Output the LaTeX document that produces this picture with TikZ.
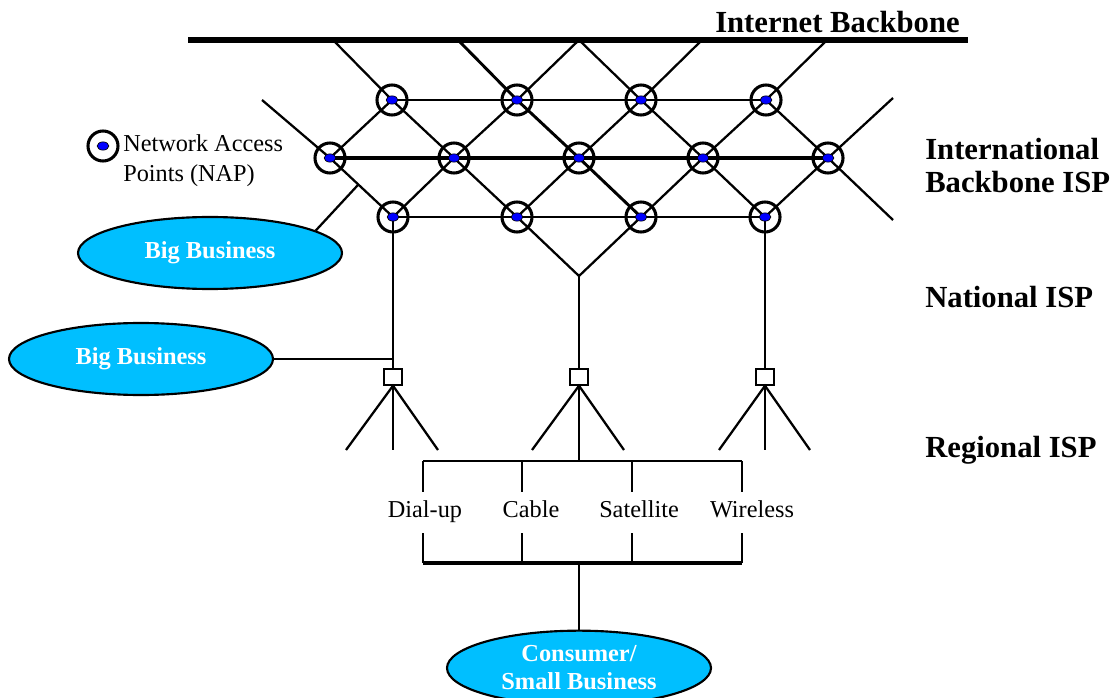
\documentclass[tikz,border=0pt]{standalone}
\usepackage{fontspec}
\setmainfont{Liberation Serif}
\usetikzlibrary{positioning, shapes, backgrounds, calc}
\definecolor{celeste}{RGB}{0, 191, 255}
\definecolor{azul}{RGB}{0, 0, 255}
\tikzset{
    nap/.style={draw, circle, line width=2.3pt, minimum size=22.5pt, inner sep=0pt,
        path picture={\filldraw[fill=azul, draw=black, line width=0.5pt] (path picture bounding box.center) ellipse (4.4pt and 3.1pt);}},
    biz/.style={draw, ellipse, fill=celeste, line width=1.6pt, text=white, minimum width=198pt, minimum height=54pt, inner sep=0pt, align=center, font=\fontsize{18.3}{21}\selectfont\bfseries},
    isp/.style={draw, rectangle, fill=white, line width=1.6pt, minimum width=13pt, minimum height=11.5pt, inner sep=0pt},
    conn/.style={-, line width=1.7pt},
    tier/.style={inner sep=0pt, align=left, font=\fontsize{23}{24.75}\selectfont\bfseries},
    medio/.style={inner sep=0pt, align=left, font=\fontsize{18.2}{22.5}\selectfont},
}
\begin{document}
\begin{tikzpicture}[x=0.75pt, y=-0.75pt]
    \useasboundingbox (0,0) rectangle (1116,698);

    % internet backbone
    \coordinate (bbL) at (188,40);
    \coordinate (bbR) at (968,40);
    \draw[line width=5pt] (bbL) -- (bbR);
    \node[tier, anchor=base east] (inet) at (960,33) {Internet Backbone};
    \coordinate (bb1) at (333,40);
    \coordinate (bb2) at (458,40);
    \coordinate (bb3) at (579,40);
    \coordinate (bb4) at (702,40);
    \coordinate (bb5) at (827,40);

    % access points
    \node[nap] (up1) at (392,100) {};
    \node[nap] (up2) at (517,100) {};
    \node[nap] (up3) at (641,100) {};
    \node[nap] (up4) at (766,100) {};
    \node[nap] (mid1) at (330,158) {};
    \node[nap] (mid2) at (454,158) {};
    \node[nap] (mid3) at (579,158) {};
    \node[nap] (mid4) at (703,158) {};
    \node[nap] (mid5) at (828,158) {};
    \node[nap] (low1) at (393,217) {};
    \node[nap] (low2) at (517,217) {};
    \node[nap] (low3) at (641,217) {};
    \node[nap] (low4) at (765,217) {};
    \coordinate (outL) at (262,100);
    \coordinate (outRa) at (893,98);
    \coordinate (outRb) at (893,220);

    % legend
    \node[nap] (key) at (103,146) {};
    \node[medio, anchor=base west] (keyA) at (123,152) {Network Access};
    \node[medio, anchor=base west] (keyB) at (123,182) {Points (NAP)};

    % tiers
    \node[tier, anchor=base west] (intl) at (925,160) {International};
    \node[tier, anchor=base west] (intl2) at (925,193) {Backbone ISP};
    \node[tier, anchor=base west] (natl) at (925,308) {National ISP};
    \node[tier, anchor=base west] (regl) at (925,457) {Regional ISP};

    % businesses
    \node[biz] (big1) at (210,253) {Big Business};
    \node[biz] (big2) at (141,359) {Big Business};
    \node[biz, minimum height=56pt] (cons) at (579,668) {Consumer/\\Small Business};

    % regional isp boxes
    \node[isp] (sq1) at (393,377) {};
    \node[isp] (sq2) at (579,377) {};
    \node[isp] (sq3) at (765,377) {};
    \coordinate (join) at (579,276);
    \coordinate (tapA) at ($(mid1)!0.45!(low1)$);
    \coordinate (tapB) at (big2.east -| low1);

    % access types
    \node[medio, anchor=base] (dial) at (425,517) {Dial-up};
    \node[medio, anchor=base] (cable) at (531,517) {Cable};
    \node[medio, anchor=base] (sat) at (639,517) {Satellite};
    \node[medio, anchor=base] (wless) at (752,517) {Wireless};

    \begin{scope}[on background layer]
        \draw[conn] (bb1) -- (up1.center);
        \draw[conn, line width=2.2pt] (bb2) -- (up2.center);
        \draw[conn] (bb3) -- (up2.center);
        \draw[conn] (bb3) -- (up3.center);
        \draw[conn] (bb4) -- (up3.center);
        \draw[conn] (bb5) -- (up4.center);
        \draw[conn, line width=1.4pt] (up1.center) -- (up2.center) -- (up3.center) -- (up4.center);
        \draw[conn, line width=2.4pt] (mid1.center) -- (mid2.center) -- (mid3.center) -- (mid4.center) -- (mid5.center);
        \draw[conn, line width=2pt] (low1.center) -- (low2.center) -- (low3.center) -- (low4.center);
        \draw[conn] (outL) -- (mid1.center);
        \draw[conn] (outRa) -- (mid5.center) -- (outRb);
        \draw[conn] (mid1.center) -- (up1.center) -- (mid2.center) -- (up2.center);
        \draw[conn, line width=2.2pt] (up2.center) -- (mid3.center) -- (low3.center);
        \draw[conn] (mid3.center) -- (up3.center) -- (mid4.center) -- (up4.center) -- (mid5.center);
        \draw[conn] (mid1.center) -- (low1.center) -- (mid2.center) -- (low2.center) -- (mid3.center);
        \draw[conn] (low3.center) -- (mid4.center) -- (low4.center) -- (mid5.center);
        \draw[conn] (tapA) -- (big1.12);
        \draw[conn, line width=2pt] (low1.center) -- (sq1.north);
        \draw[conn, line width=1.4pt] (big2.east) -- (tapB);
        \draw[conn] (low2.center) -- (join) -- (low3.center);
        \draw[conn, line width=1.4pt] (join) -- (sq2.north);
        \draw[conn, line width=2.2pt] (low4.center) -- (sq3.north);
    \end{scope}

    % fans under the boxes
    \draw[conn] (346,450) -- (sq1.south) -- (438,450);
    \draw[conn] (sq1.south) -- (393,450);
    \draw[conn] (532,450) -- (sq2.south) -- (624,450);
    \draw[conn] (719,450) -- (sq3.south) -- (810,450);
    \draw[conn, line width=2.2pt] (sq3.south) -- (765,450);

    % bracket round the access types
    \coordinate (topL) at (423,461);
    \coordinate (topR) at (742,461);
    \coordinate (botL) at (423,563);
    \coordinate (botR) at (742,563);
    \draw[conn, line width=1.4pt] (sq2.south) -- (topL -| sq2.south);
    \draw[conn] (topL) -- (topR);
    \draw[conn, line width=2.4pt] (botL) -- (botR);
    \draw[conn] (topL) -- ++(0,31);
    \draw[conn] (522,461) -- ++(0,31);
    \draw[conn] (632,461) -- ++(0,31);
    \draw[conn] (topR) -- ++(0,31);
    \draw[conn] (botL) -- ++(0,-30);
    \draw[conn] (522,563) -- ++(0,-30);
    \draw[conn] (632,563) -- ++(0,-30);
    \draw[conn] (botR) -- ++(0,-30);
    \draw[conn, line width=1.4pt] (botL -| cons.north) -- (cons.north);
\end{tikzpicture}
\end{document}
